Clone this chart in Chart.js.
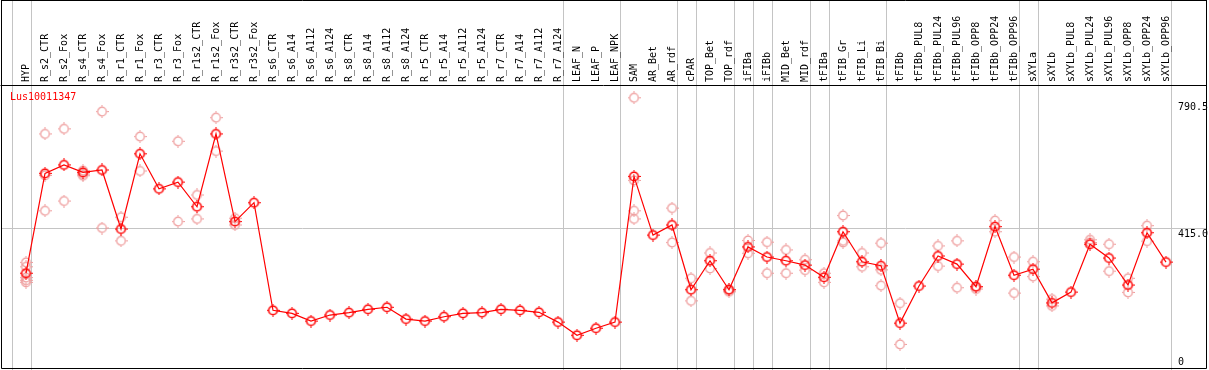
<!DOCTYPE html>
<html>
<head>
    <title>Lus10011347</title>
    <script src="https://cdn.jsdelivr.net/npm/chart.js"></script>
    <style>
        body {
            margin: 0;
            background: #ffffff;
            overflow: hidden;
        }

        #expr-chart {
            display: block;
        }
    </style>
</head>
<body>
    <canvas id="expr-chart" width="1209" height="370"></canvas>

    <script>
        const geneName = 'Lus10011347';

        const categories = [
            'HYP', 'R_s2_CTR', 'R_s2_Fox', 'R_s4_CTR', 'R_s4_Fox', 'R_r1_CTR', 'R_r1_Fox',
            'R_r3_CTR', 'R_r3_Fox', 'R_r1s2_CTR', 'R_r1s2_Fox', 'R_r3s2_CTR', 'R_r3s2_Fox',
            'R_s6_CTR', 'R_s6_A14', 'R_s6_A112', 'R_s6_A124', 'R_s8_CTR', 'R_s8_A14',
            'R_s8_A112', 'R_s8_A124', 'R_r5_CTR', 'R_r5_A14', 'R_r5_A112', 'R_r5_A124',
            'R_r7_CTR', 'R_r7_A14', 'R_r7_A112', 'R_r7_A124', 'LEAF_N', 'LEAF_P', 'LEAF_NPK',
            'SAM', 'AR_Bet', 'AR_rdf', 'cPAR', 'TOP_Bet', 'TOP_rdf', 'iFIBa', 'iFIBb',
            'MID_Bet', 'MID_rdf', 'tFIBa', 'tFIB_Gr', 'tFIB_Li', 'tFIB_Bi', 'tFIBb',
            'tFIBb_PUL8', 'tFIBb_PUL24', 'tFIBb_PUL96', 'tFIBb_OPP8', 'tFIBb_OPP24', 'tFIBb_OPP96',
            'sXYLa', 'sXYLb', 'sXYLb_PUL8', 'sXYLb_PUL24', 'sXYLb_PUL96', 'sXYLb_OPP8',
            'sXYLb_OPP24', 'sXYLb_OPP96'
        ];

        // mean expression per sample (red line)
        const means = [
            281, 577, 602, 580, 587, 412, 635, 531, 551, 478, 694, 434, 490, 171, 162,
            139, 157, 164, 174, 180, 145, 139, 152, 162, 164, 174, 171, 165, 136, 97, 118,
            136, 568, 394, 424, 232, 318, 232, 359, 329, 318, 305, 269, 404, 315, 303, 133,
            243, 332, 308, 241, 419, 275, 293, 193, 225, 367, 326, 246, 401, 314
        ];

        // replicate values that show apart from the mean (pink circles)
        const replicates = [
            [313, 300, 268, 260, 254], [694, 466, 571], [709, 495], [585, 575, 570], [760, 415],
            [447, 377], [686, 584], [], [672, 434], [513, 442], [742, 643], [444, 424], [],
            [], [], [], [], [], [], [], [], [], [], [], [], [], [], [], [], [], [], [],
            [801, 556, 466, 442], [], [474, 372], [266, 199], [341, 295], [232, 226],
            [378, 340], [373, 281], [350, 281], [321, 290], [281, 254], [452, 377, 372],
            [341, 300], [370, 291, 244], [192, 70],
            [], [362, 302], [377, 238], [241, 234], [437, 404], [329, 222],
            [315, 271], [204, 184], [], [380, 372], [367, 287], [266, 224], [422, 376], []
        ];

        // index of the first sample of each group (grey separators)
        const groupStarts = [0, 1, 29, 32, 35, 36, 38, 39, 40, 42, 43, 46, 53, 54, 61];

        const yTicks = [0, 415, 790.5];
        const yTickLabels = ['0', '415.0', '790.5'];

        const FONT = "10px 'DejaVu Sans Mono', monospace";
        const GREY = '#c4c4c4';

        function makeMarker(color, width) {
            const c = document.createElement('canvas');
            c.width = 13;
            c.height = 13;
            const g = c.getContext('2d');
            g.strokeStyle = color;
            g.lineWidth = width;
            g.beginPath();
            g.arc(6.5, 6.5, 4.3, 0, Math.PI * 2);
            g.stroke();
            g.lineWidth = 1;
            g.beginPath();
            g.moveTo(6.5, 0); g.lineTo(6.5, 1.6);
            g.moveTo(6.5, 11.4); g.lineTo(6.5, 13);
            g.moveTo(0, 6.5); g.lineTo(1.6, 6.5);
            g.moveTo(11.4, 6.5); g.lineTo(13, 6.5);
            g.stroke();
            return c;
        }

        const meanPoints = means.map((v, i) => ({ x: i, y: v }));
        const repPoints = [];
        replicates.forEach((list, i) => {
            list.forEach(v => repPoints.push({ x: i, y: v }));
        });

        const framePlugin = {
            id: 'frame',
            beforeDatasetsDraw(chart) {
                const ctx = chart.ctx;
                const area = chart.chartArea;
                const xs = chart.scales.x;
                const ys = chart.scales.y;
                ctx.save();
                ctx.strokeStyle = GREY;
                ctx.lineWidth = 1;
                ctx.beginPath();
                groupStarts.forEach(b => {
                    const px = Math.round(xs.getPixelForValue(b) - 14.5) + 0.5;
                    ctx.moveTo(px, 0);
                    ctx.lineTo(px, chart.height);
                });
                const gy = Math.round(ys.getPixelForValue(415)) + 0.5;
                ctx.moveTo(area.left, gy);
                ctx.lineTo(area.right, gy);
                ctx.stroke();
                ctx.restore();
            },
            afterDraw(chart) {
                const ctx = chart.ctx;
                const area = chart.chartArea;
                const xs = chart.scales.x;
                const ys = chart.scales.y;
                ctx.save();

                // boxes
                ctx.strokeStyle = '#000000';
                ctx.lineWidth = 1;
                ctx.beginPath();
                ctx.moveTo(1.5, 0.5);
                ctx.lineTo(area.right - 0.5, 0.5);
                ctx.moveTo(0.5, area.top - 0.5);
                ctx.lineTo(area.right - 0.5, area.top - 0.5);
                ctx.moveTo(area.left + 0.5, 0);
                ctx.lineTo(area.left + 0.5, area.bottom + 0.5);
                ctx.lineTo(area.right - 0.5, area.bottom + 0.5);
                ctx.lineTo(area.right - 0.5, 0);
                ctx.stroke();

                // sample labels, read bottom to top
                ctx.font = FONT;
                ctx.fillStyle = '#000000';
                ctx.textAlign = 'left';
                ctx.textBaseline = 'middle';
                categories.forEach((name, i) => {
                    ctx.save();
                    ctx.translate(xs.getPixelForValue(i) + 0.5, area.top - 4);
                    ctx.rotate(-Math.PI / 2);
                    ctx.fillText(name, 0, 0);
                    ctx.restore();
                });

                // right-hand value labels
                yTicks.forEach((v, k) => {
                    const py = ys.getPixelForValue(v);
                    if (v === 0) {
                        ctx.textBaseline = 'bottom';
                        ctx.fillText(yTickLabels[k], 1178, py - 1);
                    } else {
                        ctx.textBaseline = 'top';
                        ctx.fillText(yTickLabels[k], 1178, py + 1);
                    }
                });

                // gene name
                ctx.fillStyle = '#ff0000';
                ctx.textBaseline = 'middle';
                ctx.fillText(geneName, 10, area.top + 11);
                ctx.restore();
            }
        };

        const ctx = document.getElementById('expr-chart').getContext('2d');
        new Chart(ctx, {
            type: 'scatter',
            data: {
                datasets: [
                    {
                        label: 'mean',
                        data: meanPoints,
                        showLine: true,
                        borderColor: '#ff0000',
                        borderWidth: 1.2,
                        pointStyle: makeMarker('#ff0000', 1.6),
                        order: 0
                    },
                    {
                        label: 'replicates',
                        data: repPoints,
                        showLine: false,
                        pointStyle: makeMarker('#ee9a9a', 1.2),
                        order: 1
                    }
                ]
            },
            plugins: [framePlugin],
            options: {
                responsive: false,
                animation: false,
                layout: {
                    autoPadding: false,
                    padding: { left: 1, right: 2, top: 86, bottom: 2 }
                },
                plugins: {
                    legend: { display: false },
                    tooltip: { enabled: false }
                },
                scales: {
                    x: {
                        type: 'linear',
                        display: false,
                        min: -25 / 19,
                        max: -25 / 19 + 1206 / 19
                    },
                    y: {
                        display: false,
                        min: 0,
                        max: 282 * 415 / 140
                    }
                }
            }
        });
    </script>
</body>
</html>
